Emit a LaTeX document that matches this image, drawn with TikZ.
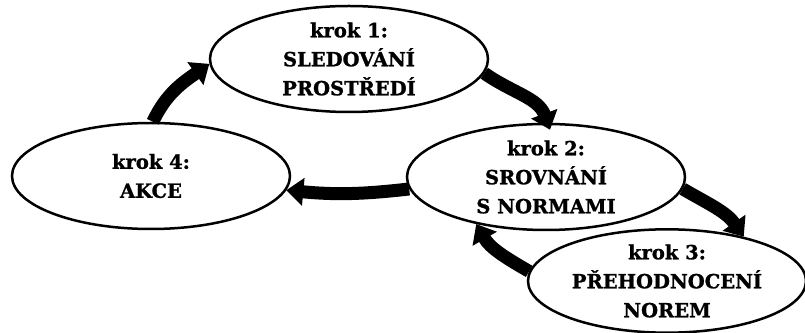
\documentclass[tikz,border=0pt]{standalone}
\usepackage{fontspec}
\setmainfont{DejaVu Serif}[BoldFeatures={FakeBold=1.2}]
\usetikzlibrary{shapes.geometric,arrows.meta}
\begin{document}
\begin{tikzpicture}[x=1pt,y=1pt,
    krokbox/.style={draw,ellipse,line width=2.5pt,minimum width=278pt,minimum height=106pt,
      inner sep=0pt,align=center,font=\fontsize{19.5}{29}\selectfont\bfseries},
    krokarrow/.style={line width=13pt,-{Triangle[length=17pt,width=27pt]}}]
            \useasboundingbox (0,0) rectangle (805,332);

            \node[krokbox] (krok1) at (349,273) {krok 1:\\SLEDOVÁNÍ\\PROSTŘEDÍ};
            \node[krokbox] (krok2) at (546,155) {krok 2:\\SROVNÁNÍ\\S NORMAMI};
            \node[krokbox,minimum height=98pt] (krok3) at (667,51) {krok 3:\\PŘEHODNOCENÍ\\NOREM};
            \node[krokbox] (krok4) at (151,156) {krok 4:\\AKCE};

            \draw[krokarrow] (krok1.-6) to[out=-35,in=110] ([shift={(4,-7)}]krok2.north);
            \draw[krokarrow] (krok2.-5) to[out=-30,in=125] (krok3.30);
            \draw[krokarrow] (krok3.176) to[out=150,in=-60] (krok2.214);
            \draw[krokarrow] (krok2.185) to[bend left=6] (krok4.-6);
            \draw[krokarrow] (krok4.88) to[out=65,in=215] (krok1.182);
            \end{tikzpicture}
\end{document}
